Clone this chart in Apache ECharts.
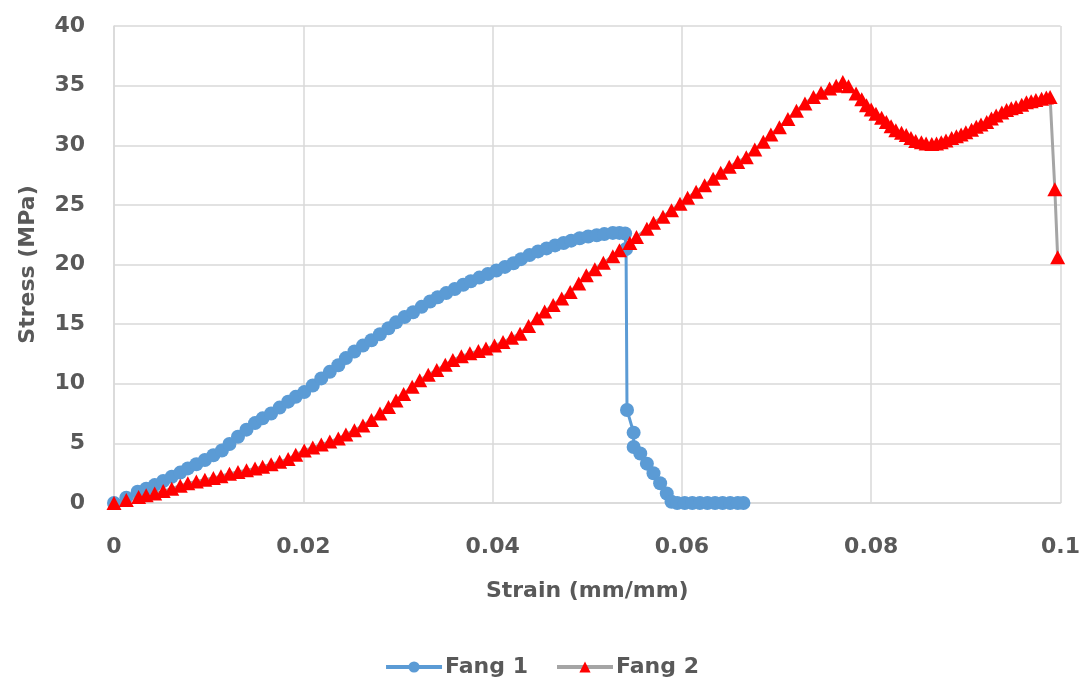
<!DOCTYPE html>
<html>
<head>
<meta charset="utf-8">
<script src="https://cdn.jsdelivr.net/npm/echarts@6/dist/echarts.min.js"></script>
<style>
html,body{margin:0;padding:0;background:#fff;}
#chart{width:1083px;height:683px;}
</style>
</head>
<body>
<div id="chart"></div>
<script>
// Fang 1 (strain mm/mm, stress MPa)
var strain1 = [0,0.0013,0.0025,0.0034,0.0043,0.0052,0.0061,0.0070,0.0078,0.0087,0.0096,0.0105,0.0114,0.0122,0.0131,0.0140,0.0149,0.0157,0.0166,0.0175,0.0184,0.0192,0.0201,0.0210,0.0219,0.0228,0.0237,0.0245,0.0254,0.0263,0.0272,0.0281,0.0290,0.0298,0.0307,0.0316,0.0325,0.0334,0.0342,0.0351,0.0360,0.0369,0.0377,0.0386,0.0395,0.0404,0.0413,0.0422,0.0430,0.0439,0.0448,0.0457,0.0466,0.0475,0.0483,0.0492,0.0501,0.0510,0.0518,0.0527,0.0534,0.0540,0.0541,0.0542,0.0549,0.0549,0.0556,0.0563,0.0570,0.0577,0.0584,0.0589,0.0595,0.0603,0.0611,0.0619,0.0627,0.0635,0.0643,0.0651,0.0659,0.0665];
var stress1 = [0,0.45,0.95,1.2,1.5,1.85,2.2,2.55,2.9,3.25,3.6,4.0,4.4,4.95,5.55,6.15,6.7,7.1,7.5,8.0,8.5,8.9,9.3,9.85,10.45,11.0,11.55,12.15,12.7,13.2,13.65,14.15,14.65,15.15,15.6,16.0,16.45,16.9,17.25,17.6,17.95,18.3,18.6,18.9,19.2,19.5,19.8,20.1,20.45,20.8,21.1,21.35,21.6,21.8,22.0,22.2,22.35,22.45,22.55,22.65,22.65,22.6,21.3,7.8,5.9,4.7,4.15,3.3,2.5,1.65,0.8,0.1,0,0,0,0,0,0,0,0,0,0];
// Fang 2
var strain2 = [0,0.0013,0.0026,0.0034,0.0043,0.0052,0.0061,0.0070,0.0078,0.0087,0.0096,0.0105,0.0113,0.0122,0.0131,0.0140,0.0149,0.0157,0.0166,0.0175,0.0184,0.0192,0.0201,0.0210,0.0219,0.0228,0.0237,0.0245,0.0254,0.0263,0.0272,0.0281,0.0290,0.0298,0.0306,0.0315,0.0323,0.0332,0.0341,0.0350,0.0358,0.0367,0.0376,0.0385,0.0393,0.0402,0.0411,0.0420,0.0429,0.0438,0.0447,0.0455,0.0464,0.0473,0.0482,0.0491,0.0499,0.0508,0.0517,0.0527,0.0534,0.0545,0.0552,0.0563,0.0570,0.0580,0.0589,0.0598,0.0606,0.0615,0.0624,0.0633,0.0641,0.0650,0.0659,0.0668,0.0677,0.0686,0.0694,0.0703,0.0712,0.0721,0.0730,0.0739,0.0747,0.0756,0.0763,0.0770,0.0776,0.0784,0.0790,0.0795,0.0800,0.0805,0.0811,0.0816,0.0821,0.0826,0.0832,0.0837,0.0842,0.0847,0.0853,0.0858,0.0864,0.0869,0.0874,0.0879,0.0885,0.0890,0.0895,0.0900,0.0906,0.0911,0.0916,0.0922,0.0927,0.0932,0.0938,0.0943,0.0948,0.0953,0.0959,0.0964,0.0969,0.0974,0.0980,0.0985,0.0989,0.0994,0.0997];
var stress2 = [0,0.25,0.5,0.65,0.8,1.0,1.2,1.45,1.65,1.8,1.95,2.1,2.25,2.45,2.6,2.75,2.9,3.05,3.25,3.45,3.7,4.05,4.4,4.65,4.9,5.15,5.4,5.75,6.1,6.5,6.95,7.5,8.05,8.6,9.15,9.75,10.3,10.75,11.15,11.6,12.0,12.3,12.55,12.75,12.95,13.2,13.5,13.85,14.2,14.85,15.5,16.05,16.6,17.15,17.7,18.4,19.1,19.6,20.15,20.7,21.2,21.8,22.3,23.0,23.5,24.0,24.55,25.1,25.6,26.1,26.65,27.2,27.7,28.2,28.6,29.0,29.65,30.3,30.9,31.5,32.2,32.9,33.5,34.05,34.4,34.75,35.0,35.3,34.95,34.35,33.85,33.35,33.0,32.65,32.3,31.95,31.6,31.25,31.05,30.85,30.6,30.35,30.25,30.15,30.1,30.15,30.25,30.4,30.6,30.75,30.9,31.1,31.3,31.55,31.75,31.95,32.25,32.5,32.75,32.95,33.1,33.2,33.4,33.6,33.7,33.8,33.9,34.0,34.05,26.3,20.6];
var xTicks = [0, 0.02, 0.04, 0.06, 0.08, 0.1];
var yTicks = [0, 5, 10, 15, 20, 25, 30, 35, 40];

function pairs(xs, ys){ return xs.map(function(x,i){ return [x, ys[i]]; }); }

var chart = echarts.init(document.getElementById('chart'));
var txt = '#595959';
var font = 'DejaVu Sans';
chart.setOption({
  animation:false,
  backgroundColor:'#fff',
  grid:{left:114, right:22, top:26, bottom:180},
  xAxis:{
    type:'value', min:xTicks[0], max:xTicks[xTicks.length-1], interval:0.02,
    name:'Strain (mm/mm)', nameLocation:'middle', nameGap:77,
    nameTextStyle:{color:txt, fontSize:22, fontWeight:'bold', fontFamily:font},
    axisLine:{show:true, lineStyle:{color:'#D9D9D9', width:1.5}},
    axisTick:{show:false},
    axisLabel:{color:txt, fontSize:22, fontWeight:'bold', fontFamily:font, margin:33},
    splitLine:{show:true, lineStyle:{color:'#D9D9D9', width:1.5}}
  },
  yAxis:{
    type:'value', min:yTicks[0], max:yTicks[yTicks.length-1], interval:5,
    name:'Stress (MPa)', nameLocation:'middle', nameGap:75,
    nameTextStyle:{color:txt, fontSize:22, fontWeight:'bold', fontFamily:font},
    axisLine:{show:true, lineStyle:{color:'#D9D9D9', width:1.5}},
    axisTick:{show:false},
    axisLabel:{color:txt, fontSize:22, fontWeight:'bold', fontFamily:font, margin:29},
    splitLine:{show:true, lineStyle:{color:'#D9D9D9', width:1.5}}
  },
  legend:{
    bottom:0, left:'center', itemWidth:56, itemHeight:14, itemGap:27,
    textStyle:{color:txt, fontSize:22, fontWeight:'bold', fontFamily:font, padding:[0,0,0,-2]},
    lineStyle:{width:4},
    data:['Fang 1','Fang 2']
  },
  series:[
    {name:'Fang 1', type:'line', data:pairs(strain1, stress1),
     symbol:'circle', symbolSize:14, showAllSymbol:true,
     lineStyle:{color:'#5B9BD5', width:3},
     itemStyle:{color:'#5B9BD5', borderWidth:0}},
    {name:'Fang 2', type:'line', data:pairs(strain2, stress2),
     symbol:'triangle', symbolSize:[15,14], showAllSymbol:true,
     lineStyle:{color:'#A5A5A5', width:3},
     itemStyle:{color:'#FF0000', borderWidth:0}}
  ]
});
</script>
</body>
</html>
